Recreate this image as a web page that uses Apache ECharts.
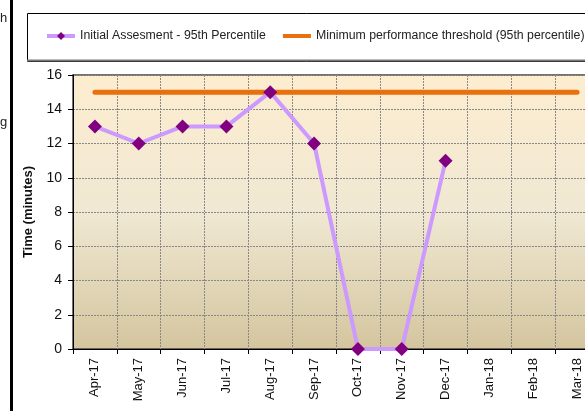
<!DOCTYPE html>
<html>
<head>
    <meta charset="utf-8">
    <title>Initial Assesment - 95th Percentile</title>
    <script src="https://cdn.jsdelivr.net/npm/echarts@6/dist/echarts.min.js"></script>
    <style>
        html, body { margin: 0; padding: 0; background: #fff; overflow: hidden; }
        #chart { width: 585px; height: 411px; }
    </style>
</head>
<body>
    <div id="chart"></div>
    <script type="text/javascript">
        // months on the x axis
        var months = ['Apr-17', 'May-17', 'Jun-17', 'Jul-17', 'Aug-17', 'Sep-17',
                      'Oct-17', 'Nov-17', 'Dec-17', 'Jan-18', 'Feb-18', 'Mar-18'];
        // 95th percentile time, minutes (no data yet for Jan-Mar 18)
        var assessment95 = [13, 12, 13, 13, 15, 12, 0, 0, 11, null, null, null];
        // threshold line
        var threshold95 = [15, 15, 15, 15, 15, 15, 15, 15, 15, 15, 15, 15];

        var font = 'Liberation Sans, Arial, sans-serif';
        var chart = echarts.init(document.getElementById('chart'), null, { renderer: 'canvas' });

        var option = {
            animation: false,
            textStyle: { fontFamily: font },
            graphic: [
                // thick black bar at the left edge
                { type: 'rect', left: 10, top: 0, shape: { width: 3, height: 411 }, style: { fill: '#000' } },
                // legend box
                { type: 'rect', left: 27, top: 13, shape: { width: 600, height: 48 },
                  style: { fill: '#fff', stroke: '#000', lineWidth: 1 }, z: -1 },
                { type: 'line', shape: { x1: 27, y1: 60.5, x2: 585, y2: 60.5 },
                  style: { stroke: '#777', lineWidth: 2 }, z: 0 },
                // clipped text from the neighbouring sheet
                { type: 'text', left: 0, top: 12, style: { text: 'h', fontSize: 13, fill: '#222', fontFamily: font } },
                { type: 'text', left: 0, top: 116, style: { text: 'g', fontSize: 13, fill: '#222', fontFamily: font } }
            ],
            legend: {
                left: 45,
                top: 30,
                padding: 0,
                width: 800,
                itemWidth: 28,
                itemHeight: 10,
                itemGap: 17,
                textStyle: { fontSize: 12.3, color: '#222', fontFamily: font },
                data: [
                    { name: 'Initial Assesment - 95th Percentile', lineStyle: { width: 4 } },
                    { name: 'Minimum performance threshold (95th percentile)', icon: 'path://M0,0 H28 V4 H0 Z' }
                ]
            },
            grid: {
                left: 73,
                top: 75,
                width: 526,
                bottom: 62,
                outerBoundsMode: 'none',
                show: true,
                borderColor: '#444',
                borderWidth: 1.5,
                backgroundColor: new echarts.graphic.LinearGradient(0, 0, 0, 1, [
                    { offset: 0, color: '#FDEDCF' },
                    { offset: 0.5, color: '#F0E8D3' },
                    { offset: 1, color: '#D4C59E' }
                ])
            },
            xAxis: {
                type: 'category',
                data: months,
                boundaryGap: true,
                axisLine: { lineStyle: { color: '#000', width: 1 } },
                axisTick: { show: true, length: 5, lineStyle: { color: '#000' } },
                axisLabel: { rotate: 90, fontSize: 13, color: '#111', margin: 9, fontFamily: font },
                splitLine: { show: true, lineStyle: { color: '#888', type: [2, 1], width: 1 } }
            },
            yAxis: {
                type: 'value',
                min: 0,
                max: 16,
                interval: 2,
                name: 'Time (minutes)',
                nameLocation: 'middle',
                nameGap: 38,
                nameTextStyle: { fontSize: 13, fontWeight: 'bold', color: '#111', fontFamily: font },
                axisLine: { show: true, lineStyle: { color: '#000', width: 1 } },
                axisTick: { show: true, length: 5, lineStyle: { color: '#000' } },
                axisLabel: { fontSize: 14, color: '#111', margin: 11, fontFamily: font },
                splitLine: { show: true, lineStyle: { color: '#888', type: [2, 1], width: 1 } }
            },
            series: [
                {
                    name: 'Initial Assesment - 95th Percentile',
                    type: 'line',
                    data: assessment95,
                    symbol: 'diamond',
                    symbolSize: 14,
                    itemStyle: { color: '#800080' },
                    lineStyle: { color: '#CC99FF', width: 4 },
                    z: 3
                },
                {
                    name: 'Minimum performance threshold (95th percentile)',
                    type: 'line',
                    data: threshold95,
                    symbol: 'none',
                    itemStyle: { color: '#E8700E' },
                    lineStyle: { color: '#E8700E', width: 5, cap: 'round' },
                    z: 2
                }
            ]
        };

        chart.setOption(option);
    </script>
</body>
</html>
